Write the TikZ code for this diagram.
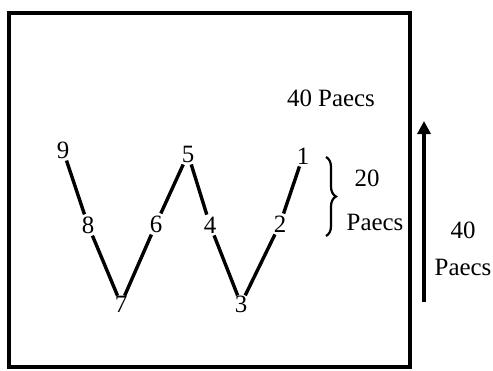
\documentclass[tikz,border=0pt]{standalone}
\usepackage{fontspec}
\setmainfont{Liberation Serif}
\usetikzlibrary{arrows.meta,decorations.pathreplacing}

\begin{document}
\begin{tikzpicture}[x=1bp,y=1bp,
    lbl/.style={inner sep=2pt,font=\fontsize{25}{29}\selectfont},
    leg/.style={line width=3.4bp}]
    \useasboundingbox (0,0) rectangle (493,370);
    % field
    \draw[line width=3.5bp] (9,3) rectangle (410,357);
    % zig-zag points
    \node[lbl] (p9) at (63,220) {9};
    \node[lbl] (p8) at (88,145) {8};
    \node[lbl,inner sep=0pt] (p7) at (121,66) {7};
    \node[lbl] (p6) at (156,146) {6};
    \node[lbl] (p5) at (188,216) {5};
    \node[lbl] (p4) at (210,145) {4};
    \node[lbl,inner sep=0pt] (p3) at (241,66) {3};
    \node[lbl] (p2) at (280,146) {2};
    \node[lbl] (p1) at (303,214) {1};
    \draw[leg] (p9) -- (p8);
    \draw[leg] (p8) -- (p7);
    \draw[leg] (p7) -- (p6);
    \draw[leg] (p6) -- (p5);
    \draw[leg] (p5) -- (p4);
    \draw[leg] (p4) -- (p3);
    \draw[leg] (p3) -- (p2);
    \draw[leg] (p2) -- (p1);
    % distances
    \node[lbl] (dtop) at (331,272) {40 Paecs};
    \draw[line width=2.2bp,decorate,
        decoration={brace,amplitude=10bp}] (326,213) -- (326,134);
    \node[lbl] (dnum) at (367,192) {20};
    \node[lbl] (dunit) at (375,148) {Paecs};
    \coordinate (arrtail) at (424,68);
    \coordinate (arrhead) at (424,249);
    \draw[leg,-{Triangle[width=13bp,length=13bp]}] (arrtail) -- (arrhead);
    \node[lbl] (rnum) at (463,140) {40};
    \node[lbl] (runit) at (463,103) {Paecs};
\end{tikzpicture}
\end{document}
